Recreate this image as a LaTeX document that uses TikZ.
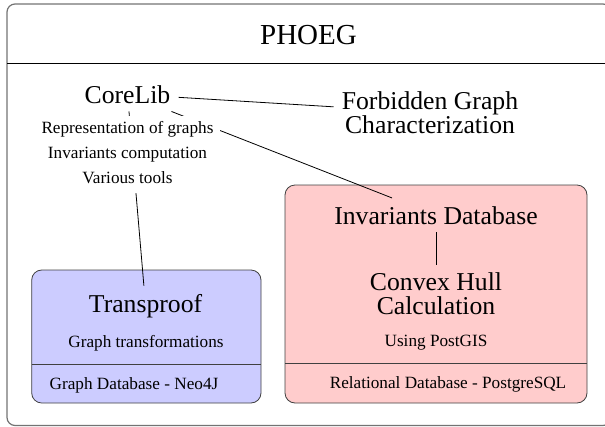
\documentclass[tikz,border=0pt]{standalone}
\usepackage{fontspec}
\setmainfont{LiberationSerif}[Extension=.ttf, UprightFont=*-Regular, BoldFont=*-Bold, ItalicFont=*-Italic, BoldItalicFont=*-BoldItalic]
\pgfdeclarelayer{bg}
\pgfdeclarelayer{fg}
\pgfsetlayers{bg,main,fg}
\lineskiplimit=-100pt
\begin{document}
\begin{tikzpicture}[x=1pt,y=-1pt,
  big/.style={font=\rmfamily\fontsize{29}{33}\selectfont, inner sep=8pt},
  med/.style={font=\rmfamily\fontsize{25.7}{23.3}\selectfont, inner sep=8pt, align=center},
  sml/.style={font=\rmfamily\fontsize{17.2}{25}\selectfont, inner sep=5pt, align=center},
  conn/.style={draw=black, line width=0.8pt},
  box/.style={draw=black!75, line width=0.8pt, rounded corners=10pt},
  sepline/.style={draw=black!75, line width=0.8pt}]
\useasboundingbox (0,0) rectangle (605,426);
\begin{pgfonlayer}{bg}
  \draw[draw=black!55, line width=1.2pt, rounded corners=8pt] (7,4) rectangle (611,425.5);
  \draw[line width=0.8pt] (7,63) -- (605,63);
  \path[box, fill=blue!20] (31.7,270) rectangle (261,403);
  \draw[sepline] (31.7,364) -- (261,364);
  \path[box, fill=red!20] (285,185) rectangle (587,403);
  \draw[sepline] (285,363) -- (587,363);
\end{pgfonlayer}
\node[big, anchor=base] (title) at (308.5,44) {PHOEG};
\node[med, anchor=base] (core) at (127.5,103) {CoreLib};
\begin{pgfonlayer}{fg}
\node[sml, fill=white, inner xsep=7pt] (feat) at (127.5,154.6) {Representation of graphs\\Invariants computation\\Various tools\rule[-5pt]{0pt}{0pt}};
\end{pgfonlayer}
\node[med] (forb) at (430,112.7) {Forbidden Graph\\Characterization};
\node[med, anchor=base] (trans) at (145.6,312) {Transproof};
\node[sml, anchor=base] (gtrans) at (146,347) {Graph transformations};
\node[sml, anchor=base] (gdb) at (134,389) {Graph Database - Neo4J};
\node[med, anchor=base] (invdb) at (436,224) {Invariants Database};
\node[med] (hull) at (436,293.7) {Convex Hull\\Calculation};
\node[sml, anchor=base] (postgis) at (436,346) {Using PostGIS};
\node[sml, anchor=base] (reldb) at (448,388) {Relational Database - PostgreSQL};
\draw[conn] (core) -- (forb);
\draw[conn] (core) -- (invdb);
\draw[conn] (core) -- (trans);
\draw[conn] (invdb) -- (hull);
\end{tikzpicture}
\end{document}
